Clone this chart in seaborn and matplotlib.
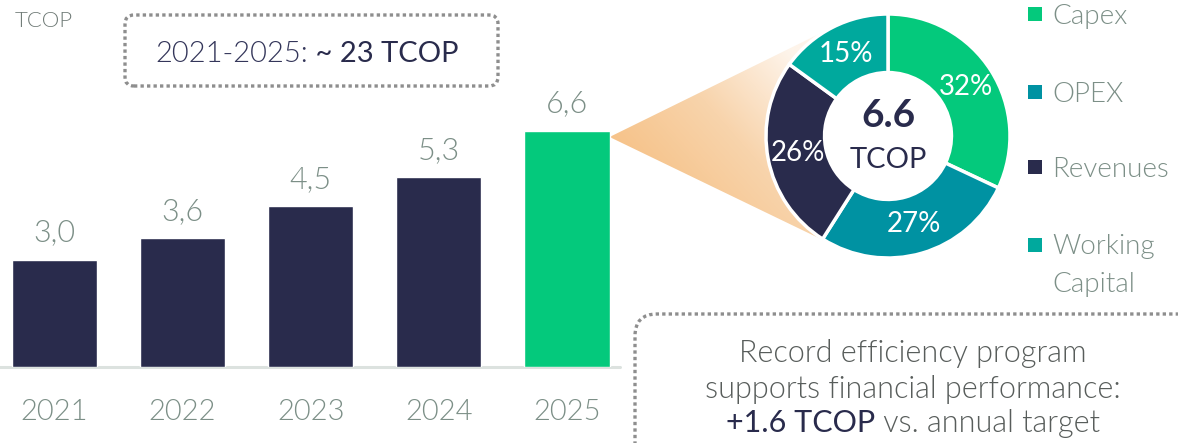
import numpy as np
import pandas as pd
import matplotlib
matplotlib.use("Agg")
import matplotlib.pyplot as plt
import seaborn as sns
from matplotlib.patches import FancyBboxPatch, Polygon, Circle, Rectangle
from matplotlib.colors import LinearSegmentedColormap

# ---- data -------------------------------------------------------------
years = ["2021", "2022", "2023", "2024", "2025"]
savings = [3.0, 3.6, 4.5, 5.3, 6.6]          # TCOP per year
mix_labels = ["Capex", "OPEX", "Revenues", "Working\nCapital"]
mix_shares = [32, 27, 26, 15]                 # % of the 2025 total
unit = "TCOP"
period_text = "2021-2025:"
period_total = " ~ 23 TCOP"
note_lines = ["Record efficiency program", "supports financial performance:"]
note_highlight = "+1.6 TCOP"
note_tail = " vs. annual target"

# ---- style ------------------------------------------------------------
NAVY = "#292B4C"
GREEN = "#04C97C"
OPEX_BLUE = "#0092A2"
TEAL = "#00A99D"
GRAY = "#7C8F87"
NOTE_GRAY = "#585D5B"
DOT_GRAY = "#8E8E8E"
LIGHT = 300
bar_colors = [NAVY] * (len(years) - 1) + [GREEN]
mix_colors = [GREEN, OPEX_BLUE, NAVY, TEAL]

sns.set_theme(style="white")
plt.rcParams["font.family"] = ["Lato", "DejaVu Sans"]

W, H = 1178, 443
fig = plt.figure(figsize=(W / 100, H / 100), dpi=100, facecolor="white")

# full-figure layer in pixel units (y up) for connectors and boxes
bg = fig.add_axes([0, 0, 1, 1], zorder=0)
bg.set_xlim(0, W)
bg.set_ylim(0, H)
bg.axis("off")

# ---- bar chart --------------------------------------------------------
ax = fig.add_axes([0, 76 / H, 620 / W, 367 / H], zorder=1)
ax.patch.set_alpha(0)
df = pd.DataFrame({"year": years, "value": savings})
bar_width = 0.667
sns.barplot(data=df, x="year", y="value", hue="year", palette=bar_colors,
            width=bar_width, saturation=1, errorbar=None, legend=False, ax=ax)
ax.set_xlim(-0.4255, 4.415)
ax.set_ylim(0, 10.263)
ax.axhline(0, color="#DCE2DF", lw=2.2, zorder=0.5, clip_on=False)
for c in ax.containers:
    ax.bar_label(c, labels=[f"{v:.1f}".replace(".", ",") for v in c.datavalues],
                 padding=9, fontsize=22, color=GRAY, fontweight=LIGHT)
ax.set_xticks(range(len(years)), years)
ax.tick_params(axis="x", length=0, pad=23, labelsize=21, labelcolor=GRAY)
for lbl in ax.get_xticklabels():
    lbl.set_fontweight(LIGHT)
ax.set_yticks([])
ax.set_xlabel("")
ax.set_ylabel("")
sns.despine(ax=ax, left=True, bottom=True)

# ---- donut ------------------------------------------------------------
cx, cy, R = 888, H - 136, 122
half = 130
pax = fig.add_axes([(cx - half) / W, (cy - half) / H, 2 * half / W, 2 * half / H],
                   zorder=2)
wedges, _, pct_texts = pax.pie(
    mix_shares, colors=mix_colors, startangle=90, counterclock=False,
    wedgeprops=dict(width=0.48, edgecolor="white", linewidth=2.5),
    autopct=lambda p: f"{p:.0f}%", pctdistance=0.755,
    textprops=dict(color="white", fontsize=20, fontweight="normal"))
pax.add_patch(Circle((0, 0), 0.53, color="white", zorder=0))
lim = half / R
pax.set_xlim(-lim, lim)
pax.set_ylim(-lim, lim)
pax.set_aspect("equal")
pax.axis("off")
pax.text(0, 0.17, f"{savings[-1]:.1f}", ha="center", va="center",
         fontsize=28, fontweight="bold", color=NAVY)
pax.text(0, -0.2, unit, ha="center", va="center", fontsize=21, color=NAVY,
         fontweight="normal")

# ---- peach connector from the 2025 bar to the donut --------------------
tip = ax.transData.transform((len(years) - 1 + bar_width / 2, savings[-1]))
tip = np.array([tip[0], tip[1] - 6])
ctr = pax.transData.transform((0, 0))
rpx = pax.transData.transform((1, 0))[0] - ctr[0]
d = tip - ctr
L = np.hypot(*d)
phi = np.arctan2(d[1], d[0])
a = np.arccos(rpx / L)
t1 = ctr + rpx * np.array([np.cos(phi + a), np.sin(phi + a)])
t2 = ctr + rpx * np.array([np.cos(phi - a), np.sin(phi - a)])
poly = Polygon([tip, t1, t2], closed=True, facecolor="none", edgecolor="none",
               transform=bg.transData)
bg.add_patch(poly)
xmin, xmax = tip[0], max(t1[0], t2[0])
ymin, ymax = min(t1[1], t2[1]), max(t1[1], t2[1])
gx, gy = np.meshgrid(np.linspace(xmin, xmax, 300), np.linspace(ymin, ymax, 300))
u = np.array([0.75, 0.66])
u /= np.hypot(*u)
proj = (gx - tip[0]) * u[0] + (gy - tip[1]) * u[1]
proj = np.clip(proj / 190.0, 0, 1)
peach = LinearSegmentedColormap.from_list("peach", ["#F6C38A", "#F8D4AC", "#FEF4EA"])
img = bg.imshow(proj, extent=[xmin, xmax, ymin, ymax], origin="lower", cmap=peach,
                vmin=0, vmax=1, aspect="auto", zorder=1, interpolation="bilinear")
img.set_clip_path(poly)
bg.set_xlim(0, W)
bg.set_ylim(0, H)

# ---- legend -----------------------------------------------------------
row_centers = [14, 92, 167, 245]
line_gap = 37
for lab, col, yc in zip(mix_labels, mix_colors, row_centers):
    bg.add_patch(Rectangle((1028, H - yc - 6.5), 13.5, 13.5, facecolor=col,
                           edgecolor="none"))
    n_extra = lab.count("\n")
    bg.text(1052, H - (yc + 10 + line_gap * n_extra), lab, va="baseline",
            ha="left", fontsize=20, color=GRAY, fontweight=LIGHT, linespacing=1.66)

# ---- unit and annotation boxes ---------------------------------------
bg.text(15, H - 27, unit, va="baseline", ha="left", fontsize=16, color="#6F7A76",
        fontweight=LIGHT)

bg.add_patch(FancyBboxPatch((125, H - 86), 373, 71,
                            boxstyle="round,pad=0,rounding_size=9", fill=False,
                            ec=DOT_GRAY, lw=2.4, linestyle=(0, (1, 0.95))))
bg.add_patch(FancyBboxPatch((635, -80), 700, H - 314 + 80,
                            boxstyle="round,pad=0,rounding_size=22", fill=False,
                            ec=DOT_GRAY, lw=2.4, linestyle=(0, (1, 0.95))))

renderer = fig.canvas.get_renderer()


def centered_runs(runs, x_center, y_base, size):
    arts = [bg.text(0, y_base, s, fontsize=size, color=c, fontweight=w,
                    va="baseline", ha="left") for s, c, w in runs]
    widths = [t.get_window_extent(renderer).width for t in arts]
    x = x_center - sum(widths) / 2
    for t, wd in zip(arts, widths):
        t.set_x(x)
        x += wd


centered_runs([(period_text, "#34365A", LIGHT), (period_total, NAVY, "normal")],
              307, H - 62, 21)

for line, yb in zip(note_lines, [362, 398]):
    bg.text(913, H - yb, line, ha="center", va="baseline", fontsize=22,
            color=NOTE_GRAY, fontweight=LIGHT)
centered_runs([(note_highlight, NAVY, "normal"), (note_tail, NOTE_GRAY, LIGHT)],
              913, H - 432, 22)

fig.savefig("out.png", dpi=100, facecolor="white")
